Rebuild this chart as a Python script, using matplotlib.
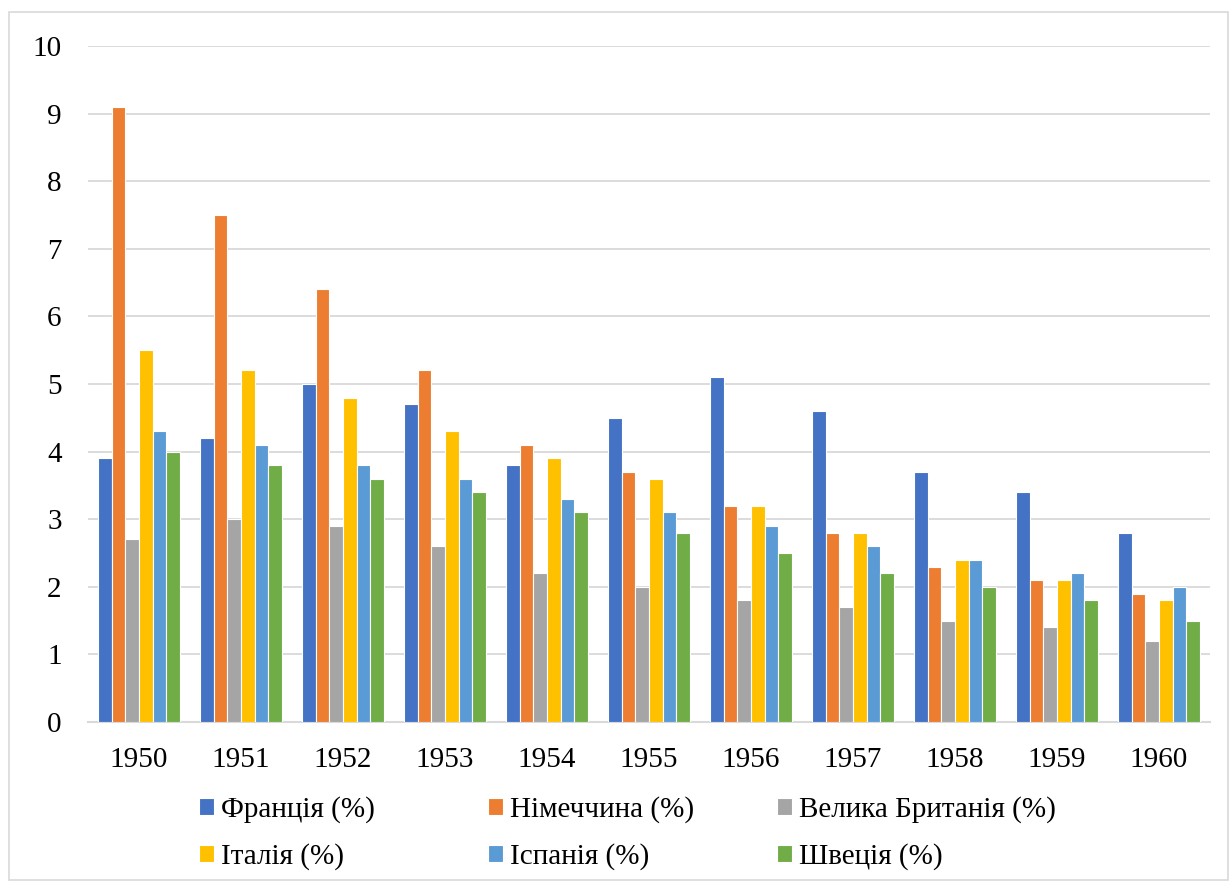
import matplotlib
matplotlib.use("Agg")
import matplotlib.pyplot as plt
from matplotlib.patches import Rectangle
import numpy as np

years = ["1950", "1951", "1952", "1953", "1954", "1955", "1956", "1957", "1958", "1959", "1960"]
france = [3.9, 4.2, 5.0, 4.7, 3.8, 4.5, 5.1, 4.6, 3.7, 3.4, 2.8]
germany = [9.1, 7.5, 6.4, 5.2, 4.1, 3.7, 3.2, 2.8, 2.3, 2.1, 1.9]
britain = [2.7, 3.0, 2.9, 2.6, 2.2, 2.0, 1.8, 1.7, 1.5, 1.4, 1.2]
italy = [5.5, 5.2, 4.8, 4.3, 3.9, 3.6, 3.2, 2.8, 2.4, 2.1, 1.8]
spain = [4.3, 4.1, 3.8, 3.6, 3.3, 3.1, 2.9, 2.6, 2.4, 2.2, 2.0]
sweden = [4.0, 3.8, 3.6, 3.4, 3.1, 2.8, 2.5, 2.2, 2.0, 1.8, 1.5]
series_names = ["Франція (%)", "Німеччина (%)", "Велика Британія (%)",
                "Італія (%)", "Іспанія (%)", "Швеція (%)"]
series = [france, germany, britain, italy, spain, sweden]
colors = ["#4472C4", "#ED7D31", "#A5A5A5", "#FFC000", "#5B9BD5", "#70AD47"]

plt.rcParams['font.family'] = ['Liberation Serif', 'DejaVu Serif']

W, H = 1230, 888
fig = plt.figure(figsize=(W / 100, H / 100), dpi=100)
fig.patches.append(Rectangle((9 / W, 1 - 880 / H), (1228 - 9) / W, (880 - 12) / H,
                             transform=fig.transFigure, fill=False,
                             edgecolor="#d9d9d9", linewidth=1.2))

ax = fig.add_axes([88 / W, (H - 722) / H, (1210 - 88) / W, (722 - 46) / H])
x = np.arange(len(years))
n = len(series)
bw = 0.8 / n
handles = []
for i, (vals, c, name) in enumerate(zip(series, colors, series_names)):
    b = ax.bar(x - 0.4 + bw * (i + 0.5), vals, width=bw, color=c,
               edgecolor="white", linewidth=0.8, label=name, zorder=3)
    handles.append(b)

ax.set_xlim(-0.5, len(years) - 0.5)
ax.set_ylim(0, 10)
ax.set_yticks(range(0, 11))
ax.set_xticks(x)
ax.set_xticklabels(years)
ax.tick_params(axis="both", length=0, labelsize=21, colors="black")
ax.tick_params(axis="x", pad=18)
ax.tick_params(axis="y", pad=19)
ax.grid(axis="y", color="#d9d9d9", linewidth=1.3, zorder=0)
for s in ["top", "right", "left"]:
    ax.spines[s].set_visible(False)
ax.spines["bottom"].set_color("#d9d9d9")
ax.spines["bottom"].set_linewidth(1.5)

cols_x = [199, 488, 777]
for ci in range(3):
    hs = [handles[ci], handles[ci + 3]]
    ls = [series_names[ci], series_names[ci + 3]]
    fig.legend(hs, ls, loc="upper left",
               bbox_to_anchor=(cols_x[ci] / W, 1 - 796 / H),
               ncol=1, frameon=False, fontsize=21,
               handlelength=0.51, handleheight=0.51, handletextpad=0.24,
               labelspacing=0.69, borderaxespad=0, borderpad=0)

fig.savefig("out.png", dpi=100)
